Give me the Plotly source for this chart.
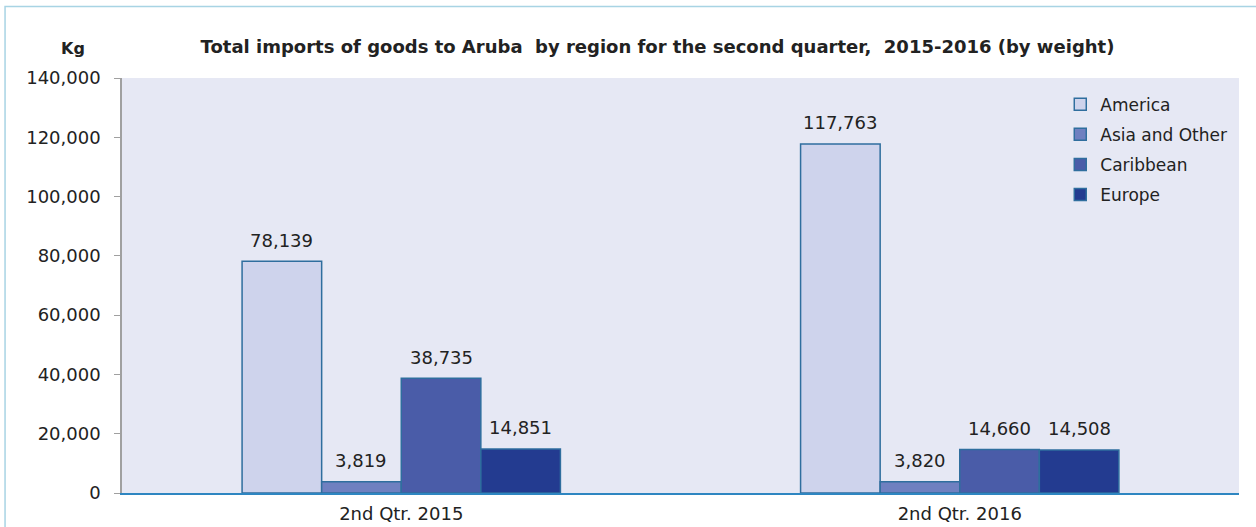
import plotly.graph_objects as go

quarters = ["2nd Qtr. 2015", "2nd Qtr. 2016"]
regions = ["America", "Asia and Other", "Caribbean", "Europe"]
values = {
    "America": [78139, 117763],
    "Asia and Other": [3819, 3820],
    "Caribbean": [38735, 14660],
    "Europe": [14851, 14508],
}
colors = {
    "America": "#CED3EC",
    "Asia and Other": "#6F80C0",
    "Caribbean": "#4A5CA8",
    "Europe": "#233B90",
}
y_ticks = [0, 20000, 40000, 60000, 80000, 100000, 120000, 140000]

FONT = "DejaVu Sans, Verdana, sans-serif"
BARGAP = 0.43

fig = go.Figure()
bar_w = (1 - BARGAP) / len(regions)
labels = []
for k, r in enumerate(regions):
    fig.add_trace(go.Bar(
        x=quarters, y=values[r], name=r, legendgroup=r,
        marker=dict(color=colors[r], line=dict(color="#2F6E9E", width=1.5)),
    ))
    # value labels sit a bit higher above the bars than plotly's "outside" text
    for i, v in enumerate(values[r]):
        labels.append(dict(
            x=i + (k - (len(regions) - 1) / 2) * bar_w, y=v, xref="x", yref="y",
            text=f"{v:,}", showarrow=False, yanchor="middle", yshift=21,
            font=dict(size=18, color="#222222"),
        ))

labels.append(dict(
    text="<b>Kg</b>", xref="paper", yref="paper",
    x=-0.0443, y=1.07, xanchor="center", yanchor="middle",
    showarrow=False, font=dict(size=16, color="#222222"),
))

# outer frame
fig.add_shape(type="rect", xref="paper", yref="paper",
              x0=-0.1047, x1=1.03, y0=-0.2, y1=1.172,
              line=dict(color="#A8D4E4", width=1.5), layer="below")

fig.update_layout(
    width=1256, height=527,
    margin=dict(l=122, r=17, t=78, b=34),
    paper_bgcolor="white",
    plot_bgcolor="#E6E8F4",
    barmode="group",
    bargap=BARGAP,
    bargroupgap=0,
    font=dict(family=FONT, size=17, color="#222222"),
    title=dict(
        text="<b>Total imports of goods to Aruba  by region for the second quarter,  2015-2016 (by weight)</b>",
        x=0.5235, xanchor="center", y=0.911, yanchor="middle",
        font=dict(size=18, color="#222222"),
    ),
    legend=dict(
        x=0.84, y=0.979, xanchor="left", yanchor="top",
        bgcolor="rgba(0,0,0,0)", font=dict(size=17),
        tracegroupgap=5, itemwidth=30,
    ),
    annotations=labels,
)
fig.update_xaxes(
    showline=True, linecolor="#2E86C1", linewidth=2, automargin=False,
    ticks="outside", ticklen=3, tickcolor="rgba(0,0,0,0)", showgrid=False,
    tickfont=dict(size=18),
)
fig.update_yaxes(
    range=[0, 140000], tickvals=y_ticks,
    ticktext=[f"{v:,}" for v in y_ticks],
    showgrid=False, zeroline=False, automargin=False,
    showline=True, linecolor="#A0A0A0", linewidth=1.5,
    ticks="outside", tickcolor="#A0A0A0", ticklen=6,
    ticklabelstandoff=10,
    tickfont=dict(size=18),
)

fig.write_html("out.html", config={"displayModeBar": False},
               post_script="document.body.style.margin = '0';")
